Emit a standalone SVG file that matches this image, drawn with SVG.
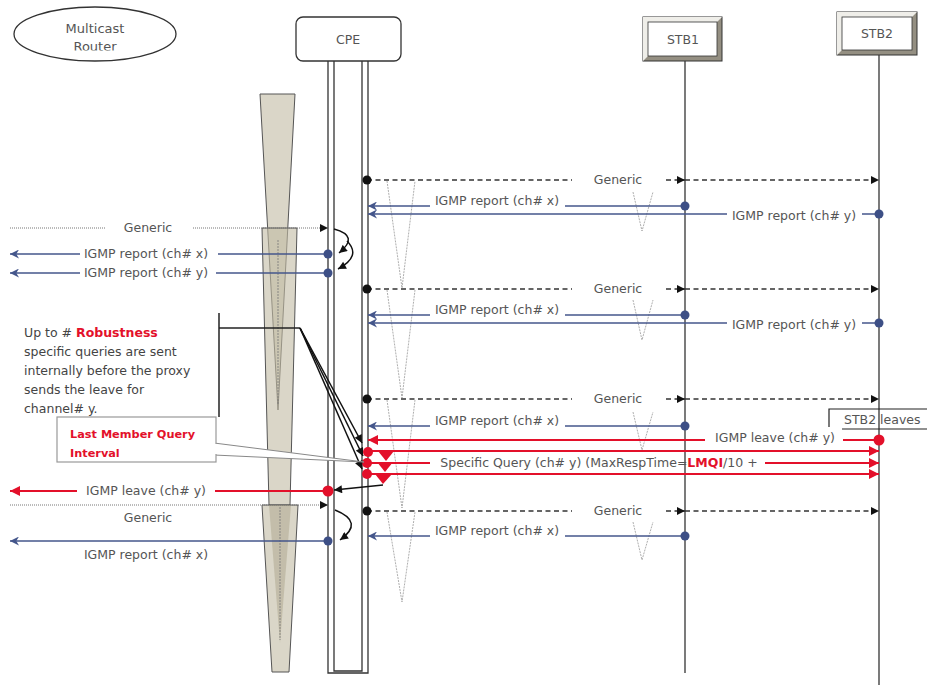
<svg xmlns="http://www.w3.org/2000/svg" width="927" height="685" viewBox="0 0 927 685">
<style>
text{font-family:"DejaVu Sans","Liberation Sans",sans-serif;font-size:12.5px;fill:#555}
.lbl{text-anchor:middle}
.big{font-size:13px}
.lm{font-size:11.3px;font-weight:bold;fill:#e3102a}
.note{fill:#444}
.life{stroke:#333;stroke-width:1.3;fill:none}
.blue{stroke:#44568b;stroke-width:1.5;fill:none}
.red{stroke:#e3102a;stroke-width:1.8;fill:none}
.dash{stroke:#333;stroke-width:1.3;stroke-dasharray:5,3.5;fill:none}
.dot{stroke:#777;stroke-width:1;stroke-dasharray:1,1;fill:none}
.blk{stroke:#111;stroke-width:1.5;fill:none}
.vee{stroke:#999;stroke-width:0.8;stroke-dasharray:2,1;fill:none}
.cone{fill:#c2bba3;fill-opacity:0.6;stroke:#555;stroke-width:1}
</style>
<defs>
<marker id="mk" viewBox="0 0 10 10" refX="10" refY="5" markerWidth="9" markerHeight="8" markerUnits="userSpaceOnUse" orient="auto"><path d="M0,0 L10,5 L0,10 z" fill="#111"/></marker>
<marker id="mb" viewBox="0 0 10 10" refX="10" refY="5" markerWidth="11" markerHeight="9" markerUnits="userSpaceOnUse" orient="auto"><path d="M0,0 L10,5 L0,10 L3,5 z" fill="#44568b"/></marker>
<marker id="mr" viewBox="0 0 10 10" refX="10" refY="5" markerWidth="12" markerHeight="10" markerUnits="userSpaceOnUse" orient="auto"><path d="M0,0 L10,5 L0,10 z" fill="#e3102a"/></marker>
<clipPath id="rc"><rect x="0" y="0" width="200" height="50.5"/></clipPath>
</defs>

<!-- timer cones -->
<g id="timers">
<polygon class="cone" points="260,94 295,94 278,410"/>
<polygon class="cone" points="262,228 297,228 290,505 269,505"/>
<line x1="278" y1="240" x2="278" y2="405" stroke="#777" stroke-width="0.8" stroke-dasharray="2,1"/>
<polygon class="cone" points="262,505 298,505 289,672 272,672"/>
<polygon points="269,505 291,505 280,643" fill="#a79f86" fill-opacity="0.45"/>
<line x1="280" y1="507" x2="280" y2="640" stroke="#777" stroke-width="0.8" stroke-dasharray="2,1"/>
</g>

<!-- nodes -->
<g id="router">
<ellipse cx="95" cy="34" rx="81" ry="27" fill="#fff" stroke="#333" stroke-width="1.3"/>
<text class="lbl big" x="95" y="33">Multicast</text>
<text class="lbl big" x="95" y="51" clip-path="url(#rc)">Router</text>
</g>

<g id="cpe">
<rect x="296" y="17" width="105" height="44" rx="7" fill="#fff" stroke="#333" stroke-width="1.3"/>
<text class="lbl" x="348" y="44">CPE</text>
<path class="life" d="M328,61 V673 H368 V61 M334,61 V671 H362 V61"/>
</g>

<g id="stb1">
<rect x="643" y="17" width="79" height="44" fill="#948f82" stroke="#333"/>
<polygon points="643,17 722,17 717,22 648,22 648,56 643,61" fill="#efeee9"/>
<rect x="648" y="22" width="69" height="34" fill="#fff" stroke="#333" stroke-width="0.8"/>
<text class="lbl" x="683" y="44">STB1</text>
<line class="life" x1="685" y1="61" x2="685" y2="673"/>
</g>

<g id="stb2">
<rect x="837" y="12" width="80" height="43" fill="#948f82" stroke="#333"/>
<polygon points="837,12 917,12 912,17 842,17 842,50 837,55" fill="#efeee9"/>
<rect x="842" y="17" width="70" height="33" fill="#fff" stroke="#333" stroke-width="0.8"/>
<text class="lbl" x="877" y="38">STB2</text>
<line class="life" x1="879" y1="55" x2="879" y2="685"/>
</g>

<!-- dotted V timers -->
<g id="vees">
<polyline class="vee" points="387,181 402,288 415,181"/>
<polyline class="vee" points="387,290 402,398 415,290"/>
<polyline class="vee" points="387,400 402,508 415,400"/>
<polyline class="vee" points="387,512 402,602 415,512"/>
<polyline class="vee" points="633,192 642,231 653,192"/>
<polyline class="vee" points="633,300 642,340 653,300"/>
<polyline class="vee" points="633,412 642,450 653,412"/>
<polyline class="vee" points="633,522 642,560 653,522"/>
</g>

<!-- connectors -->
<g id="connectors">
<!-- row 1 -->
<line class="dash" x1="367" y1="180" x2="572" y2="180"/>
<line class="dash" x1="666" y1="180" x2="685" y2="180" marker-end="url(#mk)"/>
<line class="dash" x1="685" y1="180" x2="879" y2="180" marker-end="url(#mk)"/>
<text class="lbl" x="618" y="184">Generic</text>
<circle cx="367" cy="180" r="4.5" fill="#111"/>
<line class="blue" x1="565" y1="206" x2="685" y2="206"/>
<line class="blue" x1="430" y1="206" x2="368" y2="206" marker-end="url(#mb)"/>
<text class="lbl" x="497" y="205">IGMP report (ch# x)</text>
<circle cx="685" cy="206" r="4.5" fill="#3d4f86"/>
<line class="blue" x1="862" y1="214" x2="879" y2="214"/>
<line class="blue" x1="727" y1="214" x2="368" y2="214" marker-end="url(#mb)"/>
<text class="lbl" x="794" y="220">IGMP report (ch# y)</text>
<circle cx="879" cy="214" r="4.5" fill="#3d4f86"/>

<!-- left block 1 -->
<line class="dot" x1="10" y1="228" x2="105" y2="228"/>
<line class="dot" x1="193" y1="228" x2="328" y2="228" marker-end="url(#mk)"/>
<text class="lbl" x="148" y="232">Generic</text>
<line class="blue" x1="218" y1="254" x2="328" y2="254"/>
<line class="blue" x1="80" y1="254" x2="10" y2="254" marker-end="url(#mb)"/>
<text class="lbl" x="146" y="258">IGMP report (ch# x)</text>
<circle cx="328" cy="254" r="4.5" fill="#3d4f86"/>
<line class="blue" x1="216" y1="273" x2="328" y2="273"/>
<line class="blue" x1="80" y1="273" x2="10" y2="273" marker-end="url(#mb)"/>
<text class="lbl" x="146" y="277">IGMP report (ch# y)</text>
<circle cx="328" cy="273" r="4.5" fill="#3d4f86"/>
<path class="blk" d="M334,229 Q360,236 339,253" stroke-width="2" marker-end="url(#mk)"/>
<path class="blk" d="M347,241 Q362,256 338,269" stroke-width="2" marker-end="url(#mk)"/>

<!-- row 2 -->
<line class="dash" x1="367" y1="289" x2="572" y2="289"/>
<line class="dash" x1="666" y1="289" x2="685" y2="289" marker-end="url(#mk)"/>
<line class="dash" x1="685" y1="289" x2="879" y2="289" marker-end="url(#mk)"/>
<text class="lbl" x="618" y="293">Generic</text>
<circle cx="367" cy="289" r="4.5" fill="#111"/>
<line class="blue" x1="565" y1="315" x2="685" y2="315"/>
<line class="blue" x1="430" y1="315" x2="368" y2="315" marker-end="url(#mb)"/>
<text class="lbl" x="497" y="314">IGMP report (ch# x)</text>
<circle cx="685" cy="315" r="4.5" fill="#3d4f86"/>
<line class="blue" x1="862" y1="323" x2="879" y2="323"/>
<line class="blue" x1="727" y1="323" x2="368" y2="323" marker-end="url(#mb)"/>
<text class="lbl" x="794" y="329">IGMP report (ch# y)</text>
<circle cx="879" cy="323" r="4.5" fill="#3d4f86"/>

<!-- row 3 -->
<line class="dash" x1="367" y1="399" x2="572" y2="399"/>
<line class="dash" x1="666" y1="399" x2="685" y2="399" marker-end="url(#mk)"/>
<line class="dash" x1="685" y1="399" x2="879" y2="399" marker-end="url(#mk)"/>
<text class="lbl" x="618" y="403">Generic</text>
<circle cx="367" cy="399" r="4.5" fill="#111"/>
<line class="blue" x1="565" y1="426" x2="685" y2="426"/>
<line class="blue" x1="430" y1="426" x2="368" y2="426" marker-end="url(#mb)"/>
<text class="lbl" x="497" y="425">IGMP report (ch# x)</text>
<circle cx="685" cy="426" r="4.5" fill="#3d4f86"/>
<line class="red" x1="843" y1="440" x2="879" y2="440"/>
<line class="red" x1="705" y1="440" x2="368" y2="440" marker-end="url(#mr)"/>
<text class="lbl" x="775" y="442">IGMP leave (ch# y)</text>
<circle cx="879" cy="440" r="5.5" fill="#e3102a"/>
<line class="red" x1="368" y1="451" x2="879" y2="451" marker-end="url(#mr)"/>
<line class="red" x1="368" y1="463" x2="430" y2="463"/>
<line class="red" x1="765" y1="463" x2="879" y2="463" marker-end="url(#mr)"/>
<text class="lbl" x="599" y="467">Specific Query (ch# y) (MaxRespTime=<tspan fill="#e3102a" font-weight="bold">LMQI</tspan>/10 +</text>
<line class="red" x1="368" y1="474" x2="879" y2="474" marker-end="url(#mr)"/>
<circle cx="368" cy="452" r="5" fill="#e3102a"/>
<circle cx="367" cy="463" r="5" fill="#e3102a"/>
<circle cx="367" cy="474" r="5" fill="#e3102a"/>
<polygon points="378,451 394,451 386,461" fill="#e3102a"/>
<polygon points="377,462 393,462 385,472" fill="#e3102a"/>
<polygon points="375,474 392,474 383,484" fill="#e3102a"/>
<line class="blk" x1="383" y1="485" x2="334" y2="490" stroke-width="2" marker-end="url(#mk)"/>

<!-- left block 2 -->
<line class="red" x1="215" y1="491" x2="328" y2="491"/>
<line class="red" x1="77" y1="491" x2="10" y2="491" marker-end="url(#mr)"/>
<text class="lbl" x="146" y="495">IGMP leave (ch# y)</text>
<circle cx="328" cy="491" r="5.5" fill="#e3102a"/>
<line class="dot" x1="10" y1="505" x2="328" y2="505" marker-end="url(#mk)"/>
<text class="lbl" x="148" y="522">Generic</text>
<path class="blk" d="M335,510 Q365,522 340,540" stroke-width="2" marker-end="url(#mk)"/>
<line class="blue" x1="328" y1="541" x2="10" y2="541" marker-end="url(#mb)"/>
<text class="lbl" x="146" y="559">IGMP report (ch# x)</text>
<circle cx="328" cy="541" r="4.5" fill="#3d4f86"/>

<!-- row 4 -->
<line class="dash" x1="367" y1="511" x2="572" y2="511"/>
<line class="dash" x1="666" y1="511" x2="685" y2="511" marker-end="url(#mk)"/>
<line class="dash" x1="685" y1="511" x2="879" y2="511" marker-end="url(#mk)"/>
<text class="lbl" x="618" y="515">Generic</text>
<circle cx="367" cy="511" r="4.5" fill="#111"/>
<line class="blue" x1="565" y1="536" x2="685" y2="536"/>
<line class="blue" x1="430" y1="536" x2="368" y2="536" marker-end="url(#mb)"/>
<text class="lbl" x="497" y="535">IGMP report (ch# x)</text>
<circle cx="685" cy="536" r="4.5" fill="#3d4f86"/>
</g>

<!-- annotations -->
<g id="robustness-note">
<text class="note" x="24" y="337">Up to # <tspan fill="#e3102a" font-weight="bold">Robustness</tspan></text>
<text class="note" x="24" y="356">specific queries are sent</text>
<text class="note" x="24" y="375">internally before the proxy</text>
<text class="note" x="24" y="394">sends the leave for</text>
<text class="note" x="24" y="413">channel# y.</text>
<line x1="219" y1="313" x2="219" y2="417" stroke="#222" stroke-width="1.5"/>
<line x1="219" y1="328" x2="300" y2="328" stroke="#222" stroke-width="1.3"/>
<line class="blk" x1="300" y1="328" x2="362" y2="443" stroke-width="1.3" marker-end="url(#mk)"/>
<line class="blk" x1="300" y1="328" x2="363" y2="456" stroke-width="1.3" marker-end="url(#mk)"/>
<line class="blk" x1="300" y1="328" x2="362" y2="469" stroke-width="1.3" marker-end="url(#mk)"/>
</g>

<g id="lmqi-callout">
<polygon points="214,443 364,462 214,455" fill="#fff" stroke="#888" stroke-width="1"/>
<rect x="57" y="417" width="159" height="45" fill="#fff" stroke="#999" stroke-width="1.2"/>
<rect x="210" y="444" width="8" height="10" fill="#fff"/>
<text class="lm" x="70" y="438">Last Member Query</text>
<text class="lm" x="70" y="457">Interval</text>
</g>

<g id="stb2-leaves">
<path d="M829,427 V409 H927 M842,429 H927" fill="none" stroke="#222" stroke-width="1.2"/>
<text x="844" y="424">STB2 leaves</text>
</g>
</svg>
